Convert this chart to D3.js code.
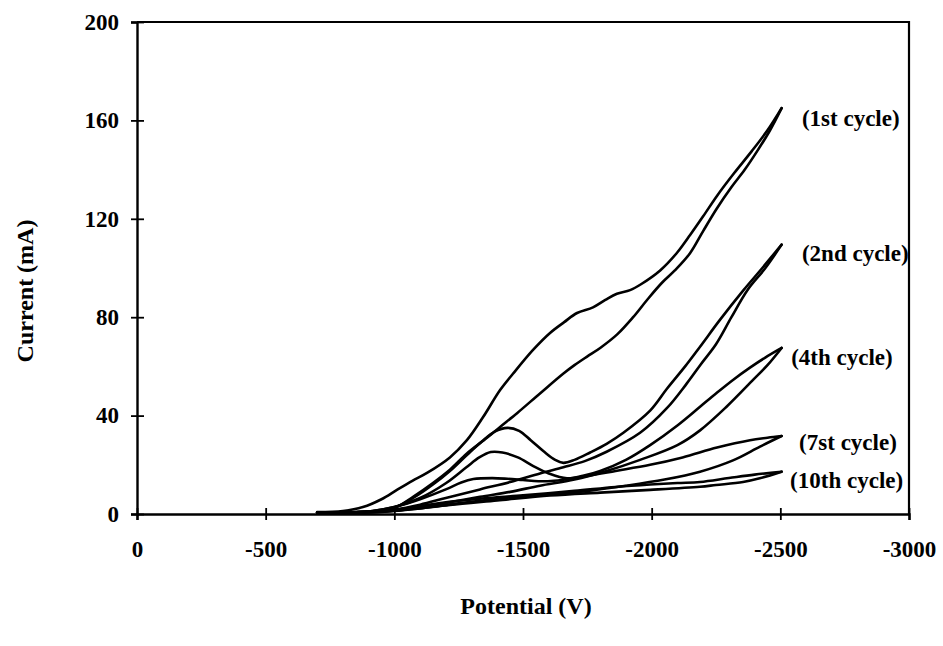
<!DOCTYPE html>
<html>
<head>
<meta charset="utf-8">
<script src="https://cdn.jsdelivr.net/npm/d3@7"></script>
<style>
  html, body { margin: 0; padding: 0; background: #fff; }
  svg text { font-family: "Liberation Serif", "Times New Roman", serif; fill: #000; }
</style>
</head>
<body>
<svg id="chart" width="943" height="646"></svg>
<script>
// Cyclic voltammetry: potential (V) vs current (mA), forward and reverse sweeps per cycle
const xTicks = [0, -500, -1000, -1500, -2000, -2500, -3000];
const yTicks = [0, 40, 80, 120, 160, 200];

const cycleNames = ["(1st cycle)", "(2nd cycle)", "(4th cycle)", "(7st cycle)", "(10th cycle)"];

// 1st cycle
const cycle1Forward = [[-700,0.8],[-800,1.2],[-878,2.8],[-950,6],[-1010,9.8],[-1070,13.5],[-1127,16.7],[-1216,23],[-1282,30],[-1345,39.4],[-1411,50.4],[-1461,57],[-1539,66.7],[-1605,73.6],[-1660,78],[-1710,81.7],[-1772,84],[-1820,87],[-1865,89.5],[-1916,91],[-1960,93.5],[-2033,99],[-2097,106],[-2150,113.5],[-2200,121],[-2255,129.5],[-2320,138.5],[-2389,147.5],[-2450,156],[-2505,165]];
const cycle1Reverse = [[-2505,165],[-2460,156],[-2410,147.5],[-2362,140],[-2311,133],[-2252,124],[-2200,115],[-2149,106],[-2090,99],[-2040,94],[-1982,87],[-1928,80],[-1866,73],[-1800,67.5],[-1749,64],[-1700,60.5],[-1656,57],[-1566,49],[-1477,41],[-1411,35.4],[-1360,31],[-1282,24.6],[-1216,18],[-1150,12.6],[-1073,7],[-1010,3],[-950,1.5],[-850,0.8],[-700,0.6]];

// 2nd cycle
const cycle2Forward = [[-700,0.6],[-850,0.8],[-950,1.5],[-1010,3],[-1073,6.5],[-1150,12],[-1216,17.5],[-1282,24],[-1340,29.5],[-1390,33.5],[-1440,35],[-1485,33.8],[-1530,30],[-1580,25.5],[-1625,22],[-1657,20.8],[-1700,22],[-1761,25],[-1825,28.5],[-1890,33],[-1994,42],[-2060,51],[-2130,60],[-2188,68],[-2266,79],[-2357,91],[-2430,100],[-2505,109.5]];
const cycle2Reverse = [[-2505,109.5],[-2442,100],[-2372,91],[-2310,80],[-2250,69],[-2192,61],[-2136,53],[-2059,43],[-1955,33],[-1825,25.3],[-1740,21.5],[-1657,19],[-1566,16.5],[-1450,13],[-1333,10],[-1200,6.5],[-1100,3.8],[-1000,1.8],[-900,0.8],[-700,0.5]];

// 4th cycle
const cycle4Forward = [[-700,0.5],[-900,1],[-1000,2.8],[-1100,6.5],[-1200,12.5],[-1280,19],[-1330,23],[-1375,25.2],[-1420,25],[-1480,23],[-1540,19.5],[-1600,16.5],[-1671,14.5],[-1733,15.5],[-1800,17.5],[-1900,22],[-1994,28],[-2100,36],[-2188,43.6],[-2250,49],[-2316,54.5],[-2382,59.5],[-2440,63.5],[-2505,67.5]];
const cycle4Reverse = [[-2505,67.5],[-2450,60.5],[-2394,54.5],[-2290,43.5],[-2188,34],[-2100,28],[-1955,22],[-1825,17.5],[-1700,14],[-1566,11.5],[-1450,9],[-1333,7],[-1200,4.5],[-1100,2.8],[-1000,1.3],[-900,0.8],[-700,0.5]];

// 7th cycle
const cycle7Forward = [[-700,0.5],[-900,1],[-1000,2.8],[-1100,6],[-1200,10],[-1260,12.8],[-1307,14.2],[-1380,14.6],[-1440,14.3],[-1500,13.8],[-1560,13.3],[-1620,13.5],[-1733,15.2],[-1860,17.5],[-1994,20],[-2120,23],[-2254,27],[-2382,30],[-2450,31],[-2505,31.7]];
const cycle7Reverse = [[-2505,31.7],[-2421,27.4],[-2316,21.8],[-2188,17.2],[-2050,14],[-1900,11.5],[-1733,9.2],[-1600,8],[-1450,6.7],[-1300,5],[-1150,3],[-1050,1.8],[-950,0.9],[-700,0.5]];

// 10th cycle
const cycle10Forward = [[-700,0.5],[-900,0.8],[-1000,1.6],[-1100,3.2],[-1200,4.8],[-1333,6.2],[-1500,7.6],[-1700,9.4],[-1860,11],[-1994,12],[-2100,12.6],[-2188,13],[-2300,14.6],[-2400,16],[-2505,17.2]];
const cycle10Reverse = [[-2505,17.2],[-2420,14.5],[-2355,13],[-2250,11.8],[-2188,11.1],[-1994,9.8],[-1800,8.7],[-1605,7.5],[-1400,5.5],[-1216,3.7],[-1100,2.3],[-1000,1.2],[-900,0.6],[-700,0.4]];

const cycles = [
  { name: cycleNames[0], fwd: cycle1Forward, rev: cycle1Reverse },
  { name: cycleNames[1], fwd: cycle2Forward, rev: cycle2Reverse },
  { name: cycleNames[2], fwd: cycle4Forward, rev: cycle4Reverse },
  { name: cycleNames[3], fwd: cycle7Forward, rev: cycle7Reverse },
  { name: cycleNames[4], fwd: cycle10Forward, rev: cycle10Reverse }
];
// label anchor: [potential, current] of each label's left-middle point
const labelAnchors = [[-2584, 161], [-2584, 106], [-2542, 63.9], [-2573, 29.4], [-2538, 13.8]];

const svg = d3.select("#chart");
const plotLeft = 137, plotRight = 909, plotTop = 22, plotBottom = 514;

const x = d3.scaleLinear().domain([0, -3000]).range([plotLeft, plotRight]);
const y = d3.scaleLinear().domain([0, 200]).range([plotBottom, plotTop]);

const tickFont = 23, titleFont = 24, labelFont = 23;

// frame (top and right edges)
svg.append("path")
  .attr("d", `M${plotLeft},${plotTop}H${plotRight}V${plotBottom}`)
  .attr("fill", "none").attr("stroke", "#000").attr("stroke-width", 2.2);

// x axis
const gx = svg.append("g").attr("transform", `translate(0,${plotBottom})`)
  .call(d3.axisBottom(x).tickValues(xTicks).tickFormat(d => String(d)).tickSize(6).tickPadding(21));
gx.select(".domain").attr("stroke-width", 2.4);
gx.selectAll(".tick line").attr("y1", -6).attr("y2", 6).attr("stroke-width", 1.8);
gx.selectAll(".tick text").attr("font-size", tickFont).attr("font-weight", "bold")
  .attr("font-family", "Liberation Serif").attr("fill", "#000");

// y axis
const gy = svg.append("g").attr("transform", `translate(${plotLeft},0)`)
  .call(d3.axisLeft(y).tickValues(yTicks).tickFormat(d => String(d)).tickSize(6).tickPadding(12));
gy.select(".domain").attr("stroke-width", 2.4);
gy.selectAll(".tick line").attr("x1", -6).attr("x2", 7).attr("stroke-width", 1.8);
gy.selectAll(".tick text").attr("font-size", tickFont).attr("font-weight", "bold")
  .attr("font-family", "Liberation Serif").attr("fill", "#000");

// axis titles
svg.append("text")
  .attr("x", 526).attr("y", 614)
  .attr("text-anchor", "middle").attr("font-size", titleFont).attr("font-weight", "bold")
  .text("Potential (V)");
svg.append("text")
  .attr("transform", "translate(33,291) rotate(-90)")
  .attr("text-anchor", "middle").attr("font-size", titleFont).attr("font-weight", "bold")
  .text("Current (mA)");

// curves
const line = d3.line()
  .x(d => x(d[0])).y(d => y(d[1]))
  .curve(d3.curveCatmullRom.alpha(0.5));

const g = svg.append("g");
cycles.forEach(c => {
  [c.fwd, c.rev].forEach(branch => {
    g.append("path").attr("d", line(branch))
      .attr("fill", "none").attr("stroke", "#000").attr("stroke-width", 2.6)
      .attr("stroke-linejoin", "round").attr("stroke-linecap", "round");
  });
});

// cycle labels
cycles.forEach((c, i) => {
  svg.append("text")
    .attr("x", x(labelAnchors[i][0])).attr("y", y(labelAnchors[i][1]))
    .attr("dy", "0.35em").attr("font-size", labelFont).attr("font-weight", "bold")
    .text(c.name);
});
</script>
</body>
</html>
